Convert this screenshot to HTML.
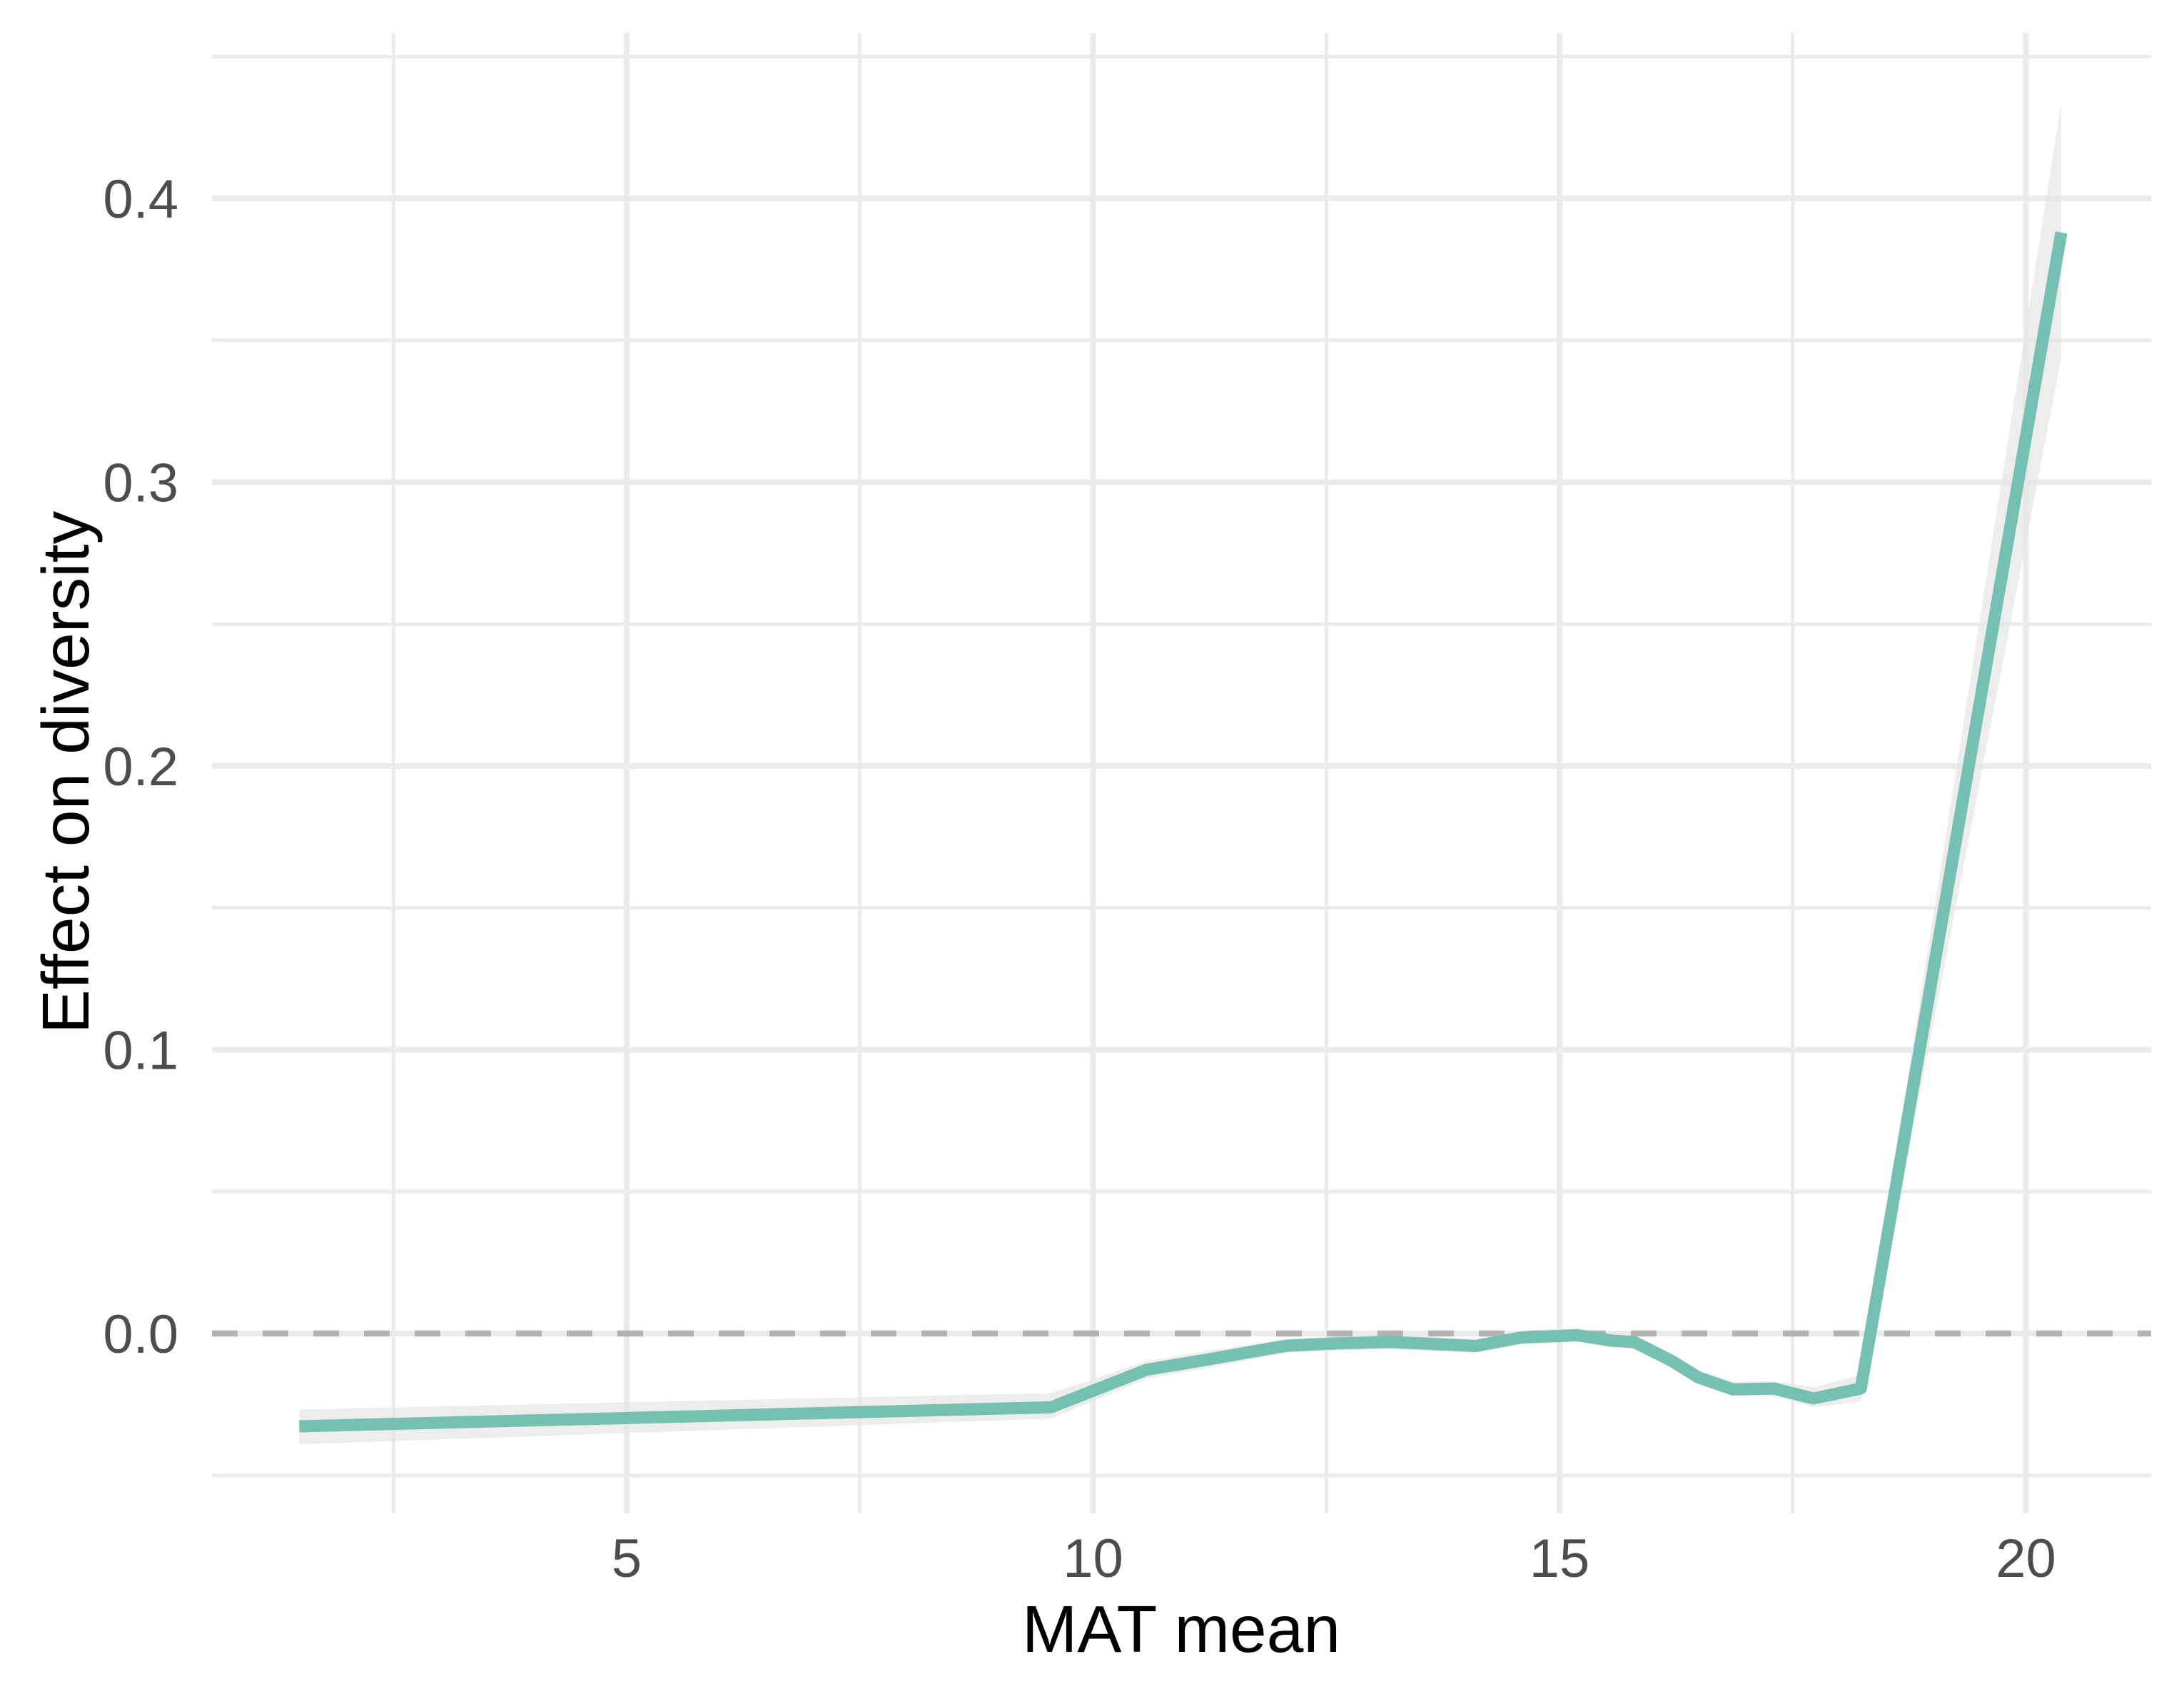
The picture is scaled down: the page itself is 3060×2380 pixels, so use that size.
<!DOCTYPE html>
<html><head><meta charset="utf-8">
<style>
html,body{margin:0;padding:0;background:#fff;}
svg{display:block;}
text{font-family:"Liberation Sans",Arial,sans-serif;}
</style></head>
<body>
<svg id="chart" width="3060" height="2380" viewBox="0 0 3060 2380" xmlns="http://www.w3.org/2000/svg">
<rect width="3060" height="2380" fill="#fff"/>
<g id="grid"></g>
<g id="ribbon"></g>
<g id="zero"></g>
<g id="series"></g>
<g id="axes"></g>
<text x="1655" y="2314" font-size="93" text-anchor="middle" fill="#000">MAT mean</text>
<text transform="translate(124,1082) rotate(-90)" font-size="93" text-anchor="middle" fill="#000">Effect on diversity</text>
</svg>
<script>
const matX = [1.49, 9.55, 10.57, 11.26, 12.07, 12.6, 13.17, 13.53, 14.1, 14.59, 15.19, 15.56, 15.8, 16.2, 16.49, 16.86, 17.3, 17.72, 18.23, 20.38];
const effectY = [-0.0327, -0.026, -0.0128, -0.009, -0.0043, -0.0035, -0.003, -0.0035, -0.0044, -0.0014, -0.0006, -0.0025, -0.003, -0.0096, -0.0155, -0.0197, -0.0194, -0.0229, -0.0194, 0.388];
const lowerY = [-0.039, -0.030, -0.016, -0.012, -0.0068, -0.006, -0.0055, -0.006, -0.0068, -0.004, -0.003, -0.005, -0.0055, -0.012, -0.018, -0.022, -0.022, -0.026, -0.024, 0.344];
const upperY = [-0.0268, -0.021, -0.0098, -0.006, -0.002, -0.001, -0.0005, -0.001, -0.002, 0.001, 0.0018, 0.0002, -0.0005, -0.007, -0.013, -0.017, -0.0168, -0.019, -0.0145, 0.434];
const xTicks = [5, 10, 15, 20];
const xMinor = [2.5, 7.5, 12.5, 17.5];
const yTicks = [0.0, 0.1, 0.2, 0.3, 0.4];
const yTickLabels = ["0.0", "0.1", "0.2", "0.3", "0.4"];
const yMinor = [-0.05, 0.05, 0.15, 0.25, 0.35, 0.45];

const NS = "http://www.w3.org/2000/svg";
const PL = 297, PR = 3014, PT = 46, PB = 2120;
function sx(v){ return 878 + (v - 5) * 130.7; }
function sy(v){ return 1868 - v * 3975; }
function mk(tag, attrs, parent){
  const e = document.createElementNS(NS, tag);
  for (const k in attrs) e.setAttribute(k, attrs[k]);
  parent.appendChild(e);
  return e;
}
const grid = document.getElementById('grid');
yMinor.forEach(v => {
  const l = mk('line', {x1: PL, x2: PR, y1: sy(v), y2: sy(v), stroke: '#ebebeb', 'stroke-width': 5}, grid);
  
  
});
xMinor.forEach(v => {
  const l = mk('line', {x1: sx(v), x2: sx(v), y1: PT, y2: PB, stroke: '#ebebeb', 'stroke-width': 5}, grid);
  
  
});
yTicks.forEach(v => {
  const l = mk('line', {x1: PL, x2: PR, y1: sy(v), y2: sy(v), stroke: '#ebebeb', 'stroke-width': 8}, grid);
  
  
});
xTicks.forEach(v => {
  const l = mk('line', {x1: sx(v), x2: sx(v), y1: PT, y2: PB, stroke: '#ebebeb', 'stroke-width': 8}, grid);
  
  
});

let d = '';
for (let i = 0; i < matX.length; i++) d += (i ? 'L' : 'M') + sx(matX[i]) + ',' + sy(upperY[i]);
for (let i = matX.length - 1; i >= 0; i--) d += 'L' + sx(matX[i]) + ',' + sy(lowerY[i]);
d += 'Z';
const rib = mk('path', {d: d, fill: '#e6e6e6', 'fill-opacity': 0.7}, document.getElementById('ribbon'));



const z = mk('line', {x1: PL, x2: PR, y1: sy(0), y2: sy(0), stroke: '#b3b3b3', 'stroke-width': 8.5, 'stroke-dasharray': '36 35'}, document.getElementById('zero'));



let pd = '';
for (let i = 0; i < matX.length; i++) pd += (i ? 'L' : 'M') + sx(matX[i]) + ',' + sy(effectY[i]);
const ln = mk('path', {d: pd, fill: 'none', stroke: '#76c0b1', 'stroke-width': 17, 'stroke-linejoin': 'round'}, document.getElementById('series'));



const axes = document.getElementById('axes');
xTicks.forEach(v => {
  const t = mk('text', {x: sx(v), y: 2209, 'font-size': 76, 'text-anchor': 'middle', fill: '#4d4d4d'}, axes);
  t.textContent = String(v);
  
  
});
yTicks.forEach((v, i) => {
  const t = mk('text', {x: 250, y: sy(v) + 27, 'font-size': 76, 'text-anchor': 'end', fill: '#4d4d4d'}, axes);
  t.textContent = yTickLabels[i];
  
  
});
</script>
</body></html>
